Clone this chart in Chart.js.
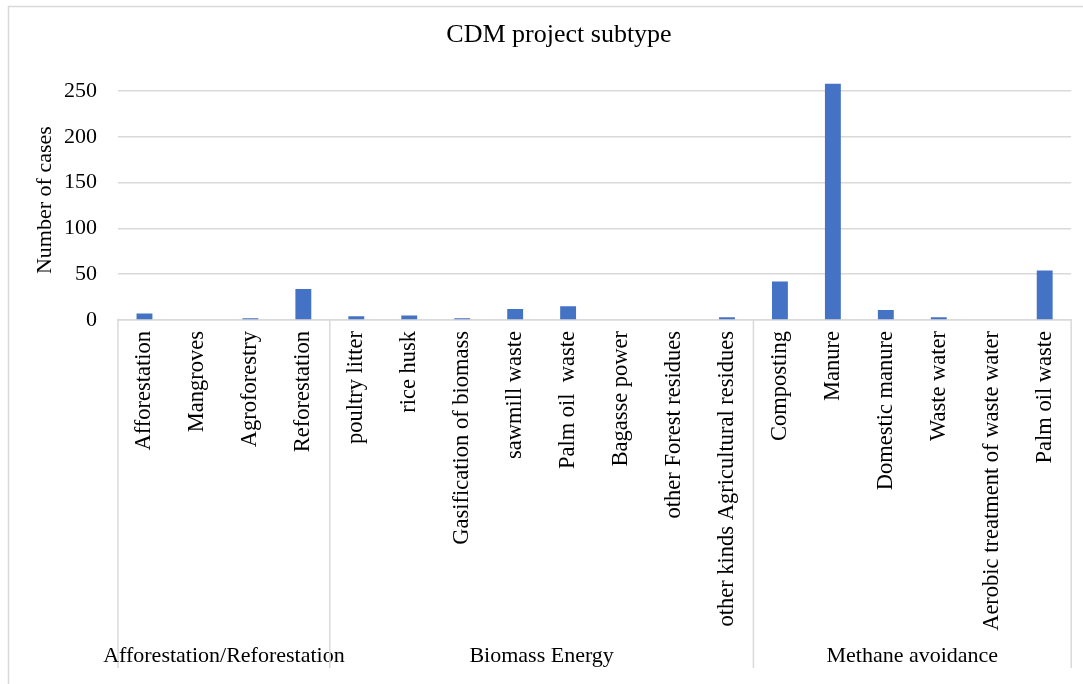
<!DOCTYPE html>
<html>
<head>
<meta charset="utf-8">
<script src="https://cdn.jsdelivr.net/npm/chart.js@4"></script>
<style>
  body { margin: 0; background: #fff; }
</style>
</head>
<body>
<canvas id="cdmChart" width="1083" height="684"></canvas>
<script>
const subtypes = [
  'Afforestation', 'Mangroves', 'Agroforestry', 'Reforestation',
  'poultry litter', 'rice husk', 'Gasification of biomass', 'sawmill waste',
  'Palm oil  waste', 'Bagasse power', 'other Forest residues', 'other kinds Agricultural residues',
  'Composting', 'Manure', 'Domestic manure', 'Waste water',
  'Aerobic treatment of waste water', 'Palm oil waste'
];

const cases = [
  7, 0, 2, 34,
  4, 5, 2, 12, 15, 0, 0, 3,
  42, 258, 11, 3, 0, 54
];

const groups = ['Afforestation/Reforestation', 'Biomass Energy', 'Methane avoidance'];
const group_sizes = [4, 8, 6];

const y_ticks = [0, 50, 100, 150, 200, 250];

const serif = "'Liberation Serif', 'Times New Roman', serif";
const lineGray = '#d9d9d9';

// outer frame, group dividers and group names under the rotated labels
const groupAxis = {
  id: 'groupAxis',
  beforeDraw(chart) {
    const ctx = chart.ctx;
    ctx.save();
    ctx.strokeStyle = lineGray;
    ctx.lineWidth = 1.5;
    ctx.strokeRect(8.5, 6.5, chart.width + 20, chart.height + 20);
    ctx.restore();
  },
  afterDraw(chart) {
    const ctx = chart.ctx;
    const x = chart.scales.x;
    const top = chart.chartArea.bottom;
    const half = (x.getPixelForTick(1) - x.getPixelForTick(0)) / 2;
    ctx.save();
    ctx.strokeStyle = lineGray;
    ctx.lineWidth = 1.5;
    ctx.fillStyle = '#000';
    ctx.font = '22px ' + serif;
    ctx.textAlign = 'center';
    ctx.textBaseline = 'middle';
    let start = 0;
    group_sizes.forEach((n, i) => {
      const left = x.getPixelForTick(start) - half;
      const right = x.getPixelForTick(start + n - 1) + half;
      ctx.beginPath();
      ctx.moveTo(left, top);
      ctx.lineTo(left, 668);
      if (i === group_sizes.length - 1) {
        ctx.moveTo(right, top);
        ctx.lineTo(right, 668);
      }
      ctx.stroke();
      ctx.fillText(groups[i], (left + right) / 2, 656);
      start += n;
    });
    ctx.restore();
  }
};

const cdm_config = {
  type: 'bar',
  data: {
    labels: subtypes,
    datasets: [{
      label: 'Number of cases',
      data: cases,
      backgroundColor: '#4472c4',
      barPercentage: 0.6,
      categoryPercentage: 0.5
    }]
  },
  options: {
    responsive: false,
    animation: false,
    layout: { padding: { left: 46, right: 11, top: 0, bottom: 0 } },
    plugins: {
      legend: { display: false },
      tooltip: { enabled: false },
      title: {
        display: true,
        text: 'CDM project subtype',
        color: '#000',
        font: { family: serif, size: 26, weight: 'normal' },
        padding: { top: 20, bottom: 29 }
      }
    },
    scales: {
      x: {
        grid: { display: false, drawTicks: false },
        border: { display: true, color: lineGray, width: 1.5 },
        ticks: {
          color: '#000',
          font: { family: serif, size: 22.5 },
          minRotation: 90,
          maxRotation: 90,
          autoSkip: false,
          padding: 11
        },
        afterFit(scale) { scale.height = 364; }
      },
      y: {
        min: 0,
        max: 262,
        grid: { color: lineGray, lineWidth: 1.5, drawTicks: false },
        border: { display: false },
        ticks: {
          color: '#000',
          font: { family: serif, size: 22 },
          padding: 21
        },
        afterBuildTicks(scale) {
          scale.ticks = y_ticks.map(v => ({ value: v }));
        },
        title: {
          display: true,
          text: 'Number of cases',
          color: '#000',
          font: { family: serif, size: 22 },
          padding: { top: -14, bottom: 0 }
        },
        afterFit(scale) { scale.width = 72; }
      }
    }
  },
  plugins: [groupAxis]
};

var cdmChart = new Chart(
  document.getElementById('cdmChart'),
  cdm_config
);
</script>
</body>
</html>
